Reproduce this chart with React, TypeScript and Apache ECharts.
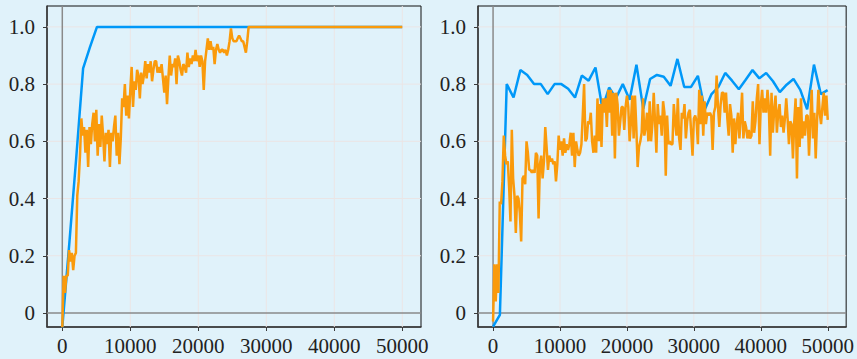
import { useEffect, useRef } from 'react';
import * as echarts from 'echarts';

const X_TICKS = [0, 10000, 20000, 30000, 40000, 50000];
const Y_TICKS = [0, 0.2, 0.4, 0.6, 0.8, 1.0];
const BLUE_STEP = 1020;
const ORANGE_STEP = 200;

const leftBlue = [
  -0.05, 0.24, 0.54, 0.855, 0.93, 1, 1, 1, 1, 1,
  1, 1, 1, 1, 1, 1, 1, 1, 1, 1,
  1, 1, 1, 1, 1, 1, 1, 1, 1, 1,
  1, 1, 1, 1, 1, 1, 1, 1, 1, 1,
  1, 1, 1, 1, 1, 1, 1, 1, 1, 1,
];

const leftOrange = [
  -0.05, 0.13, 0.07, 0.13, 0.13, 0.22, 0.18, 0.21, 0.15, 0.2,
  0.21, 0.41, 0.46, 0.55, 0.68, 0.62, 0.65, 0.56, 0.64, 0.51,
  0.65, 0.59, 0.66, 0.7, 0.6, 0.71, 0.55, 0.66, 0.58, 0.69,
  0.62, 0.53, 0.63, 0.59, 0.64, 0.51, 0.63, 0.6, 0.65, 0.69,
  0.55, 0.63, 0.52, 0.61, 0.75, 0.72, 0.8, 0.69, 0.76, 0.68,
  0.78, 0.86, 0.72, 0.81, 0.78, 0.85, 0.83, 0.75, 0.84, 0.8,
  0.83, 0.88, 0.82, 0.87, 0.84, 0.88, 0.81, 0.85, 0.88, 0.88,
  0.84, 0.86, 0.84, 0.87, 0.82, 0.77, 0.83, 0.73, 0.82, 0.9,
  0.83, 0.87, 0.86, 0.89, 0.8, 0.9, 0.88, 0.85, 0.83, 0.87,
  0.86, 0.84, 0.91, 0.86, 0.89, 0.87, 0.9, 0.88, 0.92, 0.88,
  0.9, 0.86, 0.9, 0.88, 0.78, 0.88, 0.92, 0.96, 0.92, 0.95,
  0.92, 0.93, 0.87, 0.92, 0.94, 0.92, 0.91, 0.92, 0.92, 0.91,
  0.92, 0.9, 0.92, 0.95, 0.995, 0.96, 0.95, 0.95, 0.95, 0.96,
  0.97, 0.96, 0.95, 0.95, 0.93, 0.91, 0.95, 1,
  1, 1, 1, 1, 1, 1, 1, 1, 1, 1, 1, 1, 1, 1, 1, 1, 1, 1, 1, 1,
  1, 1, 1, 1, 1, 1, 1, 1, 1, 1, 1, 1, 1, 1, 1, 1, 1, 1, 1, 1,
  1, 1, 1, 1, 1, 1, 1, 1, 1, 1, 1, 1, 1, 1, 1, 1, 1, 1, 1, 1,
  1, 1, 1, 1, 1, 1, 1, 1, 1, 1, 1, 1, 1, 1, 1, 1, 1, 1, 1, 1,
  1, 1, 1, 1, 1, 1, 1, 1, 1, 1, 1, 1, 1, 1, 1, 1, 1, 1, 1, 1,
  1, 1, 1, 1, 1, 1, 1, 1, 1, 1, 1, 1, 1,
];

const rightBlue = [
  -0.048, -0.007, 0.8, 0.753, 0.849, 0.832, 0.8, 0.8, 0.765, 0.8,
  0.8, 0.784, 0.753, 0.83, 0.812, 0.858, 0.716, 0.788, 0.751, 0.8,
  0.745, 0.868, 0.714, 0.818, 0.832, 0.826, 0.794, 0.888, 0.79, 0.79,
  0.829, 0.71, 0.765, 0.79, 0.839, 0.812, 0.782, 0.815, 0.849, 0.82,
  0.839, 0.81, 0.772, 0.798, 0.818, 0.78, 0.712, 0.868, 0.765, 0.779,
];

const rightOrange = [
  -0.03, 0.17, 0.04, 0.17, 0.07, 0.39, 0.38, 0.46, 0.62, 0.55,
  0.52, 0.53, 0.44, 0.32, 0.64, 0.47, 0.41, 0.28, 0.41, 0.4,
  0.35, 0.25, 0.47, 0.48, 0.45, 0.6, 0.56, 0.5, 0.5, 0.49,
  0.5, 0.49, 0.56, 0.55, 0.33, 0.52, 0.55, 0.47, 0.53, 0.65,
  0.58, 0.5, 0.55, 0.53, 0.54, 0.52, 0.53, 0.46, 0.52, 0.62,
  0.57, 0.6, 0.55, 0.61, 0.56, 0.59, 0.57, 0.59, 0.63, 0.55,
  0.63, 0.51, 0.6, 0.57, 0.55, 0.56, 0.59, 0.69, 0.8, 0.6,
  0.61, 0.67, 0.66, 0.7, 0.6, 0.56, 0.62, 0.56, 0.75, 0.6,
  0.73, 0.58, 0.75, 0.7, 0.75, 0.65, 0.78, 0.7, 0.78, 0.62,
  0.77, 0.54, 0.77, 0.73, 0.62, 0.67, 0.72, 0.72, 0.64, 0.72,
  0.76, 0.72, 0.6, 0.67, 0.76, 0.61, 0.76, 0.65, 0.51, 0.58,
  0.6, 0.63, 0.75, 0.62, 0.65, 0.7, 0.6, 0.74, 0.6, 0.66,
  0.77, 0.67, 0.56, 0.73, 0.66, 0.69, 0.62, 0.74, 0.7, 0.48,
  0.69, 0.59, 0.6, 0.59, 0.59, 0.73, 0.67, 0.62, 0.75, 0.61,
  0.57, 0.7, 0.68, 0.73, 0.61, 0.67, 0.7, 0.71, 0.63, 0.55,
  0.68, 0.69, 0.67, 0.59, 0.78, 0.66, 0.76, 0.62, 0.74, 0.66,
  0.7, 0.69, 0.7, 0.69, 0.57, 0.7, 0.72, 0.83, 0.72, 0.65,
  0.73, 0.77, 0.77, 0.7, 0.77, 0.68, 0.62, 0.73, 0.69, 0.56,
  0.68, 0.59, 0.66, 0.7, 0.61, 0.68, 0.77, 0.61, 0.67, 0.65,
  0.61, 0.64, 0.61, 0.62, 0.74, 0.63, 0.67, 0.75, 0.8, 0.59,
  0.73, 0.78, 0.7, 0.75, 0.7, 0.78, 0.72, 0.55, 0.77, 0.63,
  0.71, 0.76, 0.63, 0.7, 0.73, 0.65, 0.69, 0.63, 0.68, 0.75,
  0.68, 0.59, 0.67, 0.66, 0.54, 0.67, 0.75, 0.47, 0.72, 0.58,
  0.75, 0.61, 0.67, 0.62, 0.69, 0.69, 0.55, 0.67, 0.78, 0.61,
  0.7, 0.54, 0.67, 0.78, 0.7, 0.66, 0.72, 0.77, 0.69, 0.76,
  0.675,
];

const XMIN = -2250;
const XMAX = 52750;
const YMIN = -0.049;
const YMAX = 1.073;
const BG = '#e0f2fa';
const BLUE = '#0098f8';
const ORANGE = '#fa9a0b';
const FONT = 'Liberation Serif';
const FONT_SIZE = 21;

function toPairs(values: number[], step: number) {
  return values.map((v, i) => [i * step, v]);
}

function refLine(gi: number, data: number[][], color: string, width: number) {
  return {
    type: 'line',
    xAxisIndex: gi,
    yAxisIndex: gi,
    data,
    symbol: 'none',
    silent: true,
    z: 1,
    lineStyle: { color, width },
  };
}

function gridLines(gi: number) {
  const out: any[] = [];
  X_TICKS.forEach((x) => {
    if (x !== 0) out.push(refLine(gi, [[x, YMIN], [x, YMAX]], '#ebe5e5', 1));
  });
  Y_TICKS.forEach((y) => {
    if (y !== 0) out.push(refLine(gi, [[XMIN, y], [XMAX, y]], '#ebe5e5', 1));
  });
  out.push(refLine(gi, [[0, YMIN], [0, YMAX]], '#8a8a8a', 1.5));
  out.push(refLine(gi, [[XMIN, 0], [XMAX, 0]], '#8a8a8a', 1.5));
  return out;
}

function xAxis(gi: number) {
  return {
    type: 'value',
    gridIndex: gi,
    min: XMIN,
    max: XMAX,
    axisLine: { show: true, onZero: false, lineStyle: { color: '#3a3a3a', width: 1.5 } },
    axisTick: { show: true, inside: false, length: 4, customValues: X_TICKS, lineStyle: { color: '#3a3a3a', width: 1 } },
    axisLabel: {
      customValues: X_TICKS,
      margin: 8,
      fontFamily: FONT,
      fontSize: FONT_SIZE,
      color: '#222',
      formatter: (v: number) => String(Math.round(v)),
    },
    splitLine: { show: false },
  };
}

function yAxis(gi: number) {
  return {
    type: 'value',
    gridIndex: gi,
    min: YMIN,
    max: YMAX,
    axisLine: { show: true, onZero: false, lineStyle: { color: '#3a3a3a', width: 1.5 } },
    axisTick: { show: true, inside: false, length: 4, customValues: Y_TICKS, lineStyle: { color: '#3a3a3a', width: 1 } },
    axisLabel: {
      customValues: Y_TICKS,
      margin: 12,
      fontFamily: FONT,
      fontSize: FONT_SIZE,
      color: '#222',
      formatter: (v: number) => (Math.abs(v) < 1e-9 ? '0' : v.toFixed(1)),
    },
    splitLine: { show: false },
  };
}

function dataLine(gi: number, data: number[][], color: string, z: number) {
  return {
    type: 'line',
    xAxisIndex: gi,
    yAxisIndex: gi,
    data,
    symbol: 'none',
    z,
    lineStyle: { color, width: 2.5 },
    clip: true,
  };
}

export default function App() {
  const ref = useRef<HTMLDivElement>(null);
  useEffect(() => {
    if (!ref.current) return;
    const chart = echarts.init(ref.current, null, { renderer: 'svg' });
    const gridBase = {
      top: 6,
      width: 374,
      height: 321,
      show: true,
      backgroundColor: BG,
      borderColor: '#111',
      borderWidth: 1,
    };
    chart.setOption({
      animation: false,
      backgroundColor: BG,
      textStyle: { fontFamily: FONT, fontSize: FONT_SIZE },
      grid: [
        { ...gridBase, left: 47 },
        { ...gridBase, left: 478 },
      ],
      xAxis: [xAxis(0), xAxis(1)],
      yAxis: [yAxis(0), yAxis(1)],
      series: [
        ...gridLines(0),
        ...gridLines(1),
        dataLine(0, toPairs(leftBlue, BLUE_STEP), BLUE, 2),
        dataLine(0, toPairs(leftOrange, ORANGE_STEP), ORANGE, 3),
        dataLine(1, toPairs(rightBlue, BLUE_STEP), BLUE, 2),
        dataLine(1, toPairs(rightOrange, ORANGE_STEP), ORANGE, 3),
      ],
    });
    return () => chart.dispose();
  }, []);
  return (
    <div
      ref={ref}
      style={{ position: 'fixed', left: 0, top: 0, width: 857, height: 359, background: BG }}
    />
  );
}
